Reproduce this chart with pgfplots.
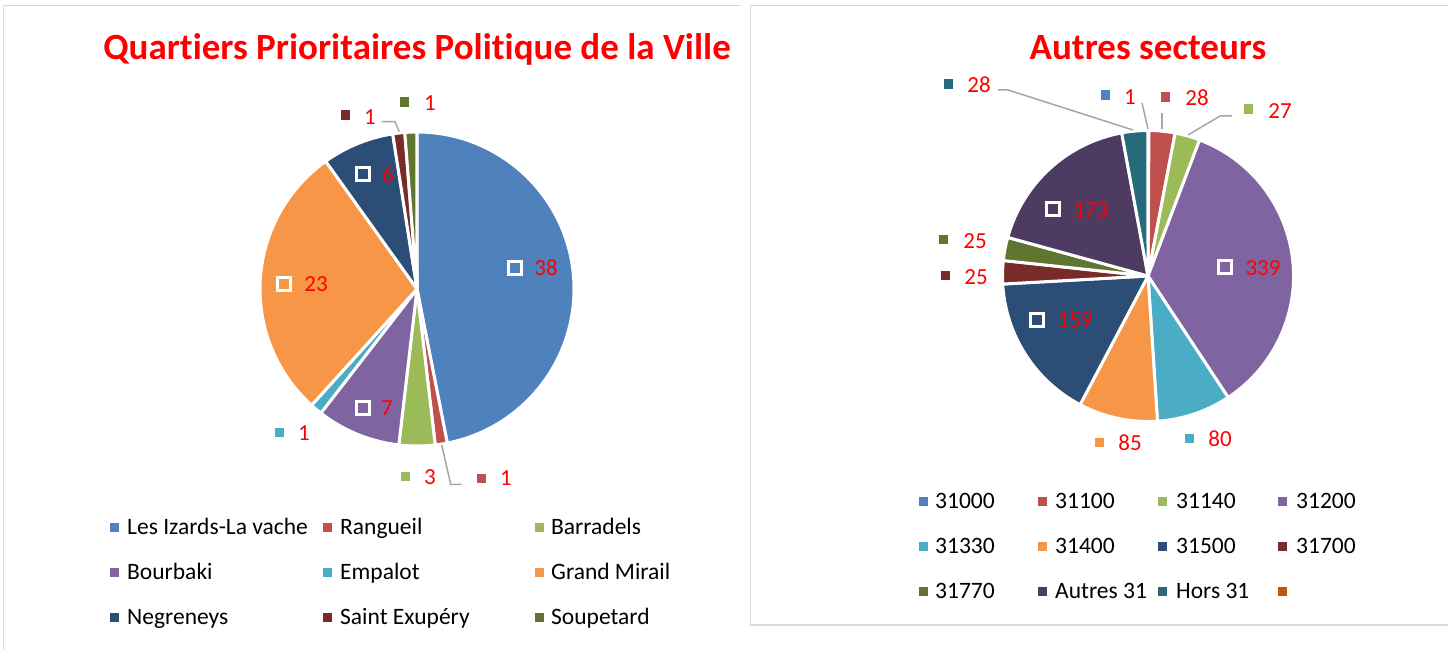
\documentclass[border=0pt]{standalone}
\usepackage{pgfplots}
\pgfplotsset{compat=1.18}
\usepackage{fontspec}
\setmainfont{Carlito}[Ligatures={NoCommon}]
\definecolor{cA}{HTML}{4F81BD}
\definecolor{cB}{HTML}{C0504D}
\definecolor{cC}{HTML}{9BBB59}
\definecolor{cD}{HTML}{8064A2}
\definecolor{cE}{HTML}{4BACC6}
\definecolor{cF}{HTML}{F79646}
\definecolor{cG}{HTML}{2C4D75}
\definecolor{cH}{HTML}{772C2A}
\definecolor{cI}{HTML}{5F7530}
\definecolor{cJ}{HTML}{4D3B62}
\definecolor{cK}{HTML}{276A7C}
\definecolor{cL}{HTML}{C0560C}
\definecolor{panelframe}{HTML}{D9D9D9}
\definecolor{leader}{HTML}{A6A6A6}
\tikzset{
  lab/.style={text=red, font=\fontsize{23}{23}\selectfont, inner sep=0pt, anchor=center},
  legtext/.style={text=black, font=\fontsize{23.5}{24}\selectfont, inner sep=0pt, anchor=base west},
  ttl/.style={text=red, font=\bfseries\fontsize{37}{40}\selectfont, inner sep=0pt, anchor=base},
}
\newcommand\okey[3]{\addplot[#1, only marks, mark=square*, mark size=4.3pt, mark options={draw=#1, fill=#1, line width=0.4pt}] coordinates {(#2,#3)};}
\newcommand\ikey[3]{\addplot[#1, only marks, mark=square*, mark size=6.5pt, mark options={draw=white, line width=3.3pt, fill=#1}] coordinates {(#2,#3)};}
\newcommand\lab[3]{\node[lab] at (axis cs:#1,#2) {#3};}
\newcommand\lkey[3]{\addplot[#1, only marks, mark=square*, mark size=4.1pt, mark options={draw=#1, fill=#1, line width=0.4pt}] coordinates {(#2,#3)};}
\newcommand\ltxt[3]{\node[legtext] at (axis cs:#1,#2) {#3};}
\begin{document}
\begin{tikzpicture}
\path[use as bounding box] (0,0) rectangle (1448pt,650pt);
\begin{axis}[at={(0,0)}, anchor=south west, width=1448pt, height=650pt, scale only axis,
  xmin=0, xmax=1448, ymin=0, ymax=650, y dir=reverse, hide axis, clip=false]
% panel frames
\pgfplotsextra{
  \draw[panelframe, line width=1.7pt] (axis cs:3.5,650) -- (axis cs:3.5,5.5) -- (axis cs:741,5.5);
  \draw[panelframe, line width=1.7pt] (axis cs:1448,5.5) -- (axis cs:750.5,5.5) -- (axis cs:750.5,625) -- (axis cs:1448,625);
}
% left pie: Les Izards-La vache 38, Rangueil 1, Barradels 3, Bourbaki 7, Empalot 1, Grand Mirail 23, Negreneys 6, Saint Exupery 1, Soupetard 1
\pgfplotsextra{
  \xdef\ang{90}
  \foreach \v/\c in {38/cA,1/cB,3/cC,7/cD,1/cE,23/cF,6/cG,1/cH,1/cI}{
    \pgfmathsetmacro\e{\ang-360*(\v/81)}
    \fill[\c, draw=white, line width=3pt] (axis cs:417,289) -- ++(\ang:157pt) arc[start angle=\ang, end angle=\e, radius=157pt] -- cycle;
    \xdef\ang{\e}
  }
}
% right pie: 31000 1, 31100 28, 31140 27, 31200 339, 31330 80, 31400 85, 31500 159, 31700 25, 31770 25, Autres 31 173, Hors 31 28
\pgfplotsextra{
  \xdef\ang{90}
  \foreach \v/\c in {1/cA,28/cB,27/cC,339/cD,80/cE,85/cF,159/cG,25/cH,25/cI,173/cJ,28/cK}{
    \pgfmathsetmacro\e{\ang-360*(\v/970)}
    \fill[\c, draw=white, line width=3pt] (axis cs:1148,276) -- ++(\ang:145.5pt) arc[start angle=\ang, end angle=\e, radius=145.5pt] -- cycle;
    \xdef\ang{\e}
  }
}
% leader lines
\addplot[leader, line width=1.5pt] coordinates {(441.7,445) (450.7,484.3) (461.7,484.3)};
\addplot[leader, line width=1.5pt] coordinates {(381.7,121.7) (395,121.7) (399.3,131.7)};
\addplot[leader, line width=1.5pt] coordinates {(998,90) (1008,90) (1133,130)};
\addplot[leader, line width=1.5pt] coordinates {(1142,103) (1148,129)};
\addplot[leader, line width=1.5pt] coordinates {(1162,113) (1162,129)};
\addplot[leader, line width=1.5pt] coordinates {(1232,116) (1220,116) (1188,135)};
% titles
\node[ttl] at (axis cs:417,60) {Quartiers Prioritaires Politique de la Ville};
\node[ttl] at (axis cs:1148,60) {Autres secteurs};
% left data labels
\ikey{cA}{515}{268} \lab{546}{268}{38}
\okey{cB}{481}{478} \lab{506}{478}{1}
\okey{cC}{405}{476} \lab{430}{477}{3}
\ikey{cD}{363}{408} \lab{387}{408}{7}
\okey{cE}{279}{432} \lab{304}{433}{1}
\ikey{cF}{284}{284} \lab{316}{284}{23}
\ikey{cG}{363}{174} \lab{388}{175}{6}
\okey{cH}{345}{115} \lab{370}{117}{1}
\okey{cI}{404}{102} \lab{430}{103}{1}
% right data labels
\okey{cA}{1105}{95} \lab{1130}{97}{1}
\okey{cB}{1165}{97} \lab{1197}{98}{28}
\okey{cC}{1248}{109} \lab{1280}{111}{27}
\ikey{cD}{1225}{267} \lab{1263}{268}{339}
\okey{cE}{1189}{438} \lab{1220}{439}{80}
\okey{cF}{1099}{442} \lab{1130}{443}{85}
\ikey{cG}{1037}{320} \lab{1075}{320}{159}
\okey{cH}{945}{275} \lab{976}{277}{25}
\okey{cI}{943}{239} \lab{975}{241}{25}
\ikey{cJ}{1053}{209} \lab{1091}{210}{173}
\okey{cK}{948}{84} \lab{979}{85}{28}
% left legend
\lkey{cA}{114}{527} \ltxt{127}{534.5}{Les Izards-La vache}
\lkey{cB}{327}{527} \ltxt{340}{534.5}{Rangueil}
\lkey{cC}{539}{527} \ltxt{551}{534.5}{Barradels}
\lkey{cD}{114}{572} \ltxt{127}{579.5}{Bourbaki}
\lkey{cE}{327}{572} \ltxt{340}{579.5}{Empalot}
\lkey{cF}{539}{572} \ltxt{551}{579.5}{Grand Mirail}
\lkey{cG}{114}{617} \ltxt{127}{624.5}{Negreneys}
\lkey{cH}{327}{617} \ltxt{340}{624.5}{Saint Exupéry}
\lkey{cI}{539}{617} \ltxt{551}{624.5}{Soupetard}
% right legend
\lkey{cA}{923}{501} \ltxt{935}{508.5}{31000}
\lkey{cB}{1042}{501} \ltxt{1055}{508.5}{31100}
\lkey{cC}{1162}{501} \ltxt{1176}{508.5}{31140}
\lkey{cD}{1282}{501} \ltxt{1296}{508.5}{31200}
\lkey{cE}{923}{546} \ltxt{935}{553.5}{31330}
\lkey{cF}{1042}{546} \ltxt{1055}{553.5}{31400}
\lkey{cG}{1162}{546} \ltxt{1176}{553.5}{31500}
\lkey{cH}{1282}{546} \ltxt{1296}{553.5}{31700}
\lkey{cI}{923}{591} \ltxt{935}{598.5}{31770}
\lkey{cJ}{1042}{591} \ltxt{1055}{598.5}{Autres 31}
\lkey{cK}{1162}{591} \ltxt{1176}{598.5}{Hors 31}
\lkey{cL}{1282}{591}
\end{axis}
\end{tikzpicture}
\end{document}
